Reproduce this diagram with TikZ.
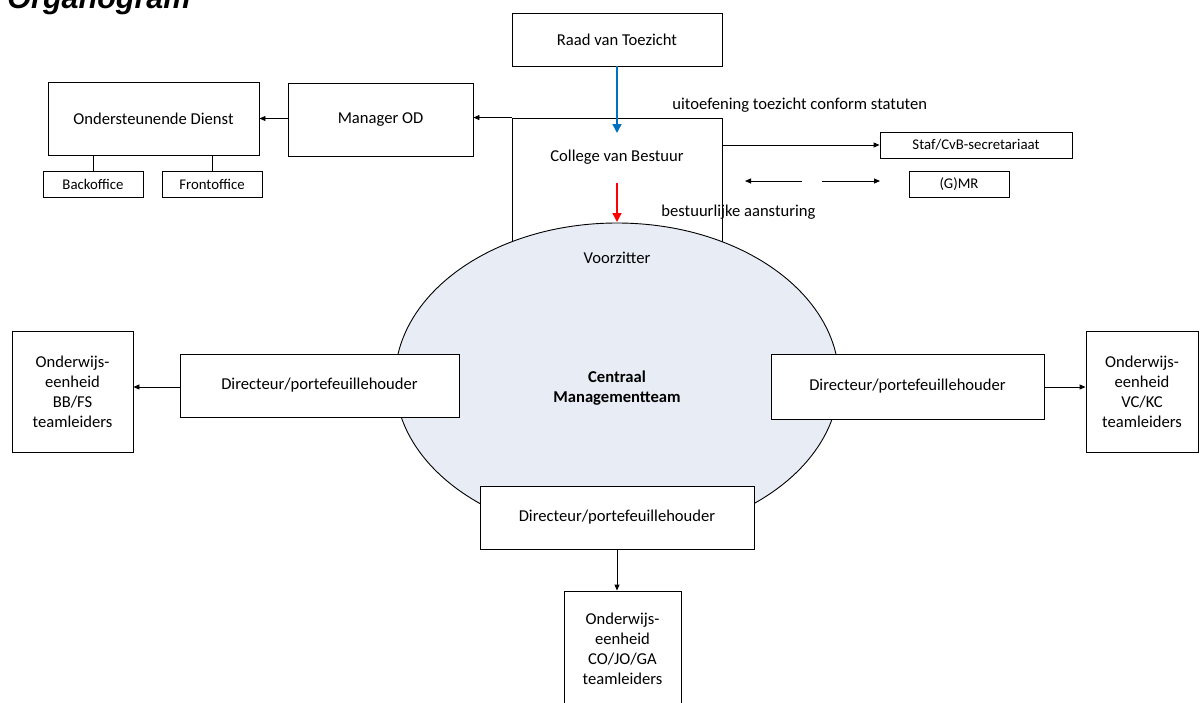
\documentclass[tikz,border=0pt]{standalone}
\usepackage{fontspec}
\setmainfont{Carlito}
\newfontfamily\titlefont{Liberation Sans}
\usetikzlibrary{arrows.meta}
\definecolor{cmtfill}{RGB}{232,237,245}
\definecolor{toezichtblue}{RGB}{0,112,192}
\begin{document}
\begin{tikzpicture}[x=1pt,y=-1pt,line width=0.9pt,
  box/.style={draw,fill=white,inner sep=0pt,align=center,font=\fontsize{16.6}{20}\selectfont},
  smallbox/.style={box,font=\fontsize{14.8}{18}\selectfont},
  txt/.style={inner sep=0pt,font=\fontsize{16.6}{20}\selectfont},
  arr/.style={-{Triangle[length=6pt,width=5pt]}},
  bigarr/.style={line width=1.6pt,-{Triangle[length=9pt,width=9pt]}}]
\useasboundingbox (0,0) rectangle (1200,702);
\node[inner sep=0pt,anchor=base west,font=\titlefont\fontsize{30.5}{34}\bfseries\itshape] (title) at (7,8) {Organogram};
\node[box,minimum width=210pt,minimum height=53pt] (rvt) at (617,39.5) {Raad van Toezicht};
\node[box,minimum width=210pt,minimum height=182pt] (cvb) at (617,209) {};
\node[txt] (cvbtxt) at (617,157) {College van Bestuur};
\node[box,minimum width=185pt,minimum height=73pt] (mod) at (380.5,120) {Manager OD};
\node[box,minimum width=211pt,minimum height=73pt] (od) at (153.5,118.5) {Ondersteunende Dienst};
\node[smallbox,minimum width=100pt,minimum height=26pt] (bo) at (93,184) {Backoffice};
\node[smallbox,minimum width=100pt,minimum height=26pt] (fo) at (212,184) {Frontoffice};
\node[smallbox,minimum width=192pt,minimum height=26pt] (staf) at (976,145) {Staf/CvB-secretariaat};
\node[smallbox,minimum width=100pt,minimum height=26pt] (gmr) at (959,184) {(G)MR};
\node[txt,anchor=west] (toezicht) at (672,105) {uitoefening toezicht conform statuten};
\node[txt,anchor=west] (aansturing) at (661,212) {bestuurlijke aansturing};
\draw[fill=cmtfill] (617,380) ellipse [x radius=222pt,y radius=157pt];
\node[txt] (voorz) at (617,258) {Voorzitter};
\node[txt,align=center,font=\fontsize{16.6}{20}\selectfont\bfseries] (cmt) at (617,388) {Centraal\\Managementteam};
\node[box,minimum width=279pt,minimum height=63pt] (dl) at (319.5,385.5) {Directeur/portefeuillehouder};
\node[box,minimum width=273pt,minimum height=65pt] (dr) at (907.5,386.5) {Directeur/portefeuillehouder};
\node[box,minimum width=274pt,minimum height=63pt] (db) at (617,517.5) {Directeur/portefeuillehouder};
\node[box,minimum width=121pt,minimum height=121pt] (ol) at (72.5,391.5) {Onderwijs-\\eenheid\\BB/FS\\teamleiders};
\node[box,minimum width=112pt,minimum height=121pt] (or) at (1142,391.5) {Onderwijs-\\eenheid\\VC/KC\\teamleiders};
\node[box,minimum width=117pt,minimum height=116pt] (ob) at (622.5,649) {Onderwijs-\\eenheid\\CO/JO/GA\\teamleiders};
\coordinate (bluetip) at (617,133);
\coordinate (redstart) at (617,183);
\coordinate (redtip) at (617,222);
\coordinate (gmrl1) at (802,181);
\coordinate (gmrl2) at (745,181);
\coordinate (gmrr1) at (822,181);
\coordinate (gmrr2) at (880,181);
\draw[bigarr,toezichtblue] (rvt.south) -- (bluetip);
\draw[bigarr,red] (redstart) -- (redtip);
\draw[arr] (cvb.north west) -- (mod.east |- cvb.north west);
\draw[arr] (mod.west |- od.east) -- (od.east);
\draw (bo.north) -- (bo.north |- od.south);
\draw (fo.north) -- (fo.north |- od.south);
\draw[arr] (cvb.east |- staf.west) -- (staf.west);
\draw[arr] (gmrl1) -- (gmrl2);
\draw[arr] (gmrr1) -- (gmrr2);
\draw[arr] (dl.west |- 0,387) -- (ol.east |- 0,387);
\draw[arr] (dr.east |- 0,387) -- (or.west |- 0,387);
\draw[arr] (db.south) -- (db.south |- ob.north);
\end{tikzpicture}
\end{document}
